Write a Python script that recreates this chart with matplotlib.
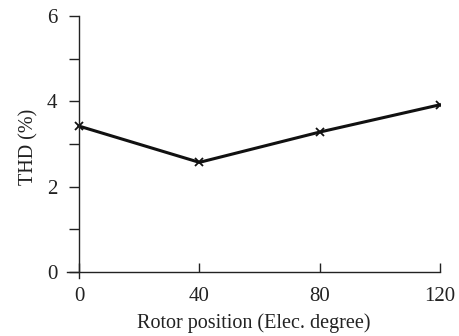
import numpy as np
import matplotlib
matplotlib.use('Agg')
import matplotlib.pyplot as plt
from matplotlib.ticker import MultipleLocator

plt.rcParams['font.family'] = ['Liberation Serif', 'DejaVu Serif']

# data
rotor_pos = [0, 40, 80, 120]
thd = [3.42, 2.57, 3.28, 3.92]
x_ticks = [0, 40, 80, 120]
y_ticks = [0, 2, 4, 6]

fig = plt.figure(figsize=(4.6, 3.36), dpi=100)
ax = fig.add_axes([67 / 460, (336 - 278) / 336, (440 - 67) / 460, (278 - 16) / 336])

ax.plot(rotor_pos, thd, color='#111111', lw=2.2, marker='x', ms=6, mew=1.3)

ax.set_xlim(-4, 120)
ax.set_ylim(-0.14, 6)
ax.spines['left'].set_position(('data', 0))
ax.spines['bottom'].set_position(('data', 0))
ax.spines['top'].set_visible(False)
ax.spines['right'].set_visible(False)
for s in ['left', 'bottom']:
    ax.spines[s].set_linewidth(1.0)
    ax.spines[s].set_color('#222222')

ax.set_xticks(x_ticks)
ax.set_yticks(y_ticks)
ax.yaxis.set_minor_locator(MultipleLocator(1))
ax.tick_params(axis='y', which='both', direction='out', length=7.5, width=1.0,
               labelsize=15, pad=8, colors='#222222')
ax.tick_params(axis='x', which='both', direction='in', length=6.5, width=1.0,
               labelsize=15, pad=11, colors='#222222')

ax.set_xlabel('Rotor position (Elec. degree)', fontsize=14.5, color='#222222', labelpad=5)
ax.set_ylabel('THD (%)', fontsize=14.5, color='#222222', labelpad=6)

plt.savefig('out.png', dpi=100)
